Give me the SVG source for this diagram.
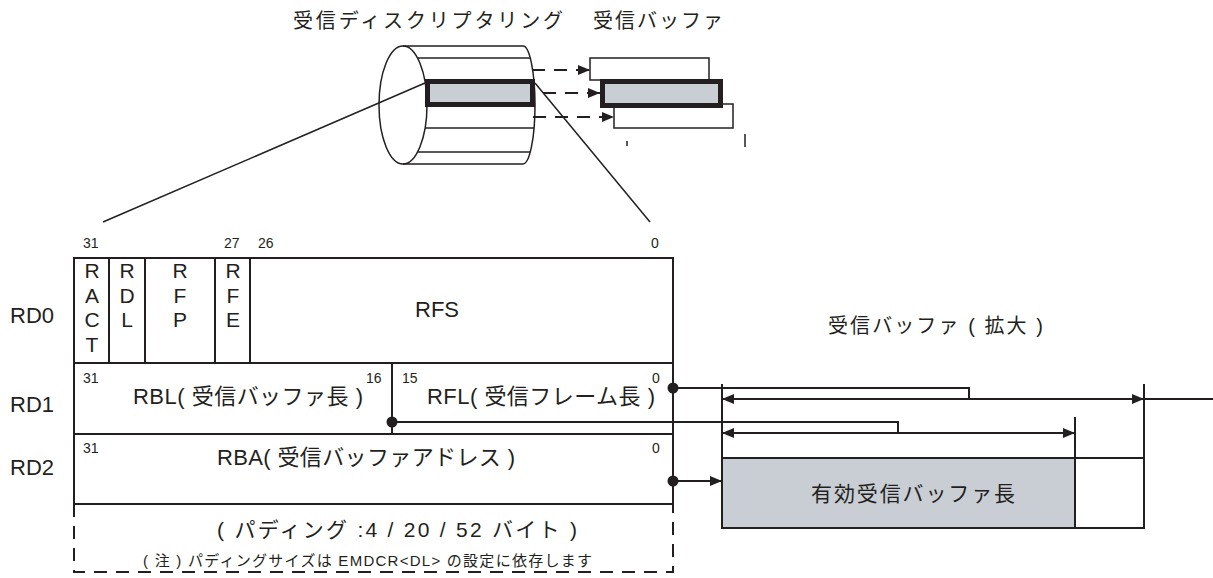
<svg xmlns="http://www.w3.org/2000/svg" width="1213" height="578" viewBox="0 0 1213 578">
<style>
.t{font-family:"Liberation Sans","Noto Sans CJK JP",sans-serif;fill:#231f20}
.ln{stroke:#231f20;stroke-width:2;fill:none}
.th{stroke:#231f20;stroke-width:1.5;fill:none}
.bx{stroke:#231f20;stroke-width:2;fill:#fff}
.gray{fill:#c9cdd4}
.dash{stroke:#231f20;stroke-width:2;fill:none;stroke-dasharray:13 9}
.dot{fill:#231f20}
.f14{font-size:14px}
.f21{font-size:21px}
.mid{text-anchor:middle}
</style>
<defs>
<marker id="ah" viewBox="0 0 12 10" refX="12" refY="5" markerWidth="12" markerHeight="10" markerUnits="userSpaceOnUse" orient="auto-start-reverse">
<path d="M0,0 L12,5 L0,10 z" fill="#231f20"/>
</marker>
</defs>
<rect width="1213" height="578" fill="#fff"/>

<g id="title-ring"><text class="t" x="293" y="28" font-size="20" textLength="270" lengthAdjust="spacing">受信ディスクリプタリング</text></g>
<g id="title-buffer"><text class="t" x="593" y="28" font-size="20" textLength="130" lengthAdjust="spacing">受信バッファ</text></g>

<g id="ring">
<path class="th" d="M403,46 L523,46 A12,59 0 0 1 523,164 L403,164" fill="#fff"/>
<ellipse class="th" cx="403" cy="105" rx="24" ry="59" fill="#fff"/>
<line class="th" x1="418" y1="58" x2="530" y2="58"/>
<line class="th" x1="425" y1="128" x2="534" y2="128"/>
<line class="th" x1="418" y1="152" x2="530" y2="152"/>
<rect class="gray" x="427.5" y="81.5" width="105" height="23" stroke="#231f20" stroke-width="5"/>
</g>

<g id="ring-buffers">
<rect class="th" x="614" y="104" width="119" height="24" fill="#fff"/>
<rect class="th" x="590" y="58" width="119" height="22" fill="#fff"/>
<rect class="gray" x="602.5" y="81.5" width="118" height="24" stroke="#231f20" stroke-width="5"/>
<line class="th" x1="627" y1="141" x2="627" y2="146"/>
<line class="th" x1="745" y1="134" x2="745" y2="147"/>
</g>

<g id="rd-table">
<g id="rd0">
<text class="t" x="10" y="323" font-size="22">RD0</text>
<rect class="bx" x="74" y="258" width="599" height="105"/>
<line class="ln" x1="109" y1="258" x2="109" y2="363"/>
<line class="ln" x1="145" y1="258" x2="145" y2="363"/>
<line class="ln" x1="215" y1="258" x2="215" y2="363"/>
<line class="ln" x1="250" y1="258" x2="250" y2="363"/>
<text class="t f14" x="83" y="248">31</text>
<text class="t f14" x="224" y="248">27</text>
<text class="t f14" x="258" y="248">26</text>
<text class="t f14" x="651" y="248">0</text>
<g class="t f21 mid">
<text x="92" y="278">R</text><text x="92" y="303">A</text><text x="92" y="327">C</text><text x="92" y="352">T</text>
<text x="127" y="278">R</text><text x="127" y="303">D</text><text x="127" y="327">L</text>
<text x="180" y="278">R</text><text x="180" y="303">F</text><text x="180" y="327">P</text>
<text x="233" y="278">R</text><text x="233" y="303">F</text><text x="233" y="327">E</text>
</g>
<text class="t" x="415" y="317" font-size="22">RFS</text>
</g>
<g id="rd1">
<text class="t" x="10" y="412" font-size="22">RD1</text>
<rect class="bx" x="74" y="363" width="599" height="71"/>
<line class="ln" x1="392" y1="363" x2="392" y2="434"/>
<text class="t f14" x="83" y="383">31</text>
<text class="t f14" x="366" y="383">16</text>
<text class="t f14" x="402" y="383">15</text>
<text class="t f14" x="652" y="383">0</text>
<text class="t" x="133" y="404" font-size="22" textLength="230" lengthAdjust="spacing">RBL( 受信バッファ長 )</text>
<text class="t" x="427" y="404" font-size="22" textLength="228" lengthAdjust="spacing">RFL( 受信フレーム長 )</text>
</g>
<g id="rd2">
<text class="t" x="10" y="475" font-size="22">RD2</text>
<rect class="bx" x="74" y="434" width="599" height="70"/>
<text class="t f14" x="83" y="453">31</text>
<text class="t f14" x="652" y="453">0</text>
<text class="t" x="217" y="465" font-size="22" textLength="298" lengthAdjust="spacing">RBA( 受信バッファアドレス )</text>
</g>
<g id="padding">
<path class="dash" d="M74,504 V572 H673 V504"/>
<text class="t" x="217" y="537" font-size="21" textLength="360" lengthAdjust="spacing">( パディング :4 / 20 / 52 バイト )</text>
<text class="t" x="143" y="566" font-size="15" textLength="449" lengthAdjust="spacing">( 注 ) パディングサイズは EMDCR&lt;DL&gt; の設定に依存します</text>
</g>
</g>

<g id="expanded-buffer">
<text class="t" x="828" y="333" font-size="20" textLength="215" lengthAdjust="spacing">受信バッファ ( 拡大 )</text>
<rect class="gray" x="722" y="458" width="353" height="70" stroke="#231f20" stroke-width="2"/>
<rect class="bx" x="1075" y="458" width="69" height="70"/>
<line class="ln" x1="722" y1="384" x2="722" y2="458"/>
<line class="ln" x1="1075" y1="417" x2="1075" y2="458"/>
<line class="ln" x1="1144" y1="384" x2="1144" y2="458"/>
<text class="t" x="811" y="501" font-size="21" textLength="204" lengthAdjust="spacing">有効受信バッファ長</text>
</g>

<g id="connectors">
<line class="th" x1="425" y1="83" x2="103" y2="222"/>
<line class="th" x1="535" y1="83" x2="650" y2="222"/>
<line class="dash" x1="532" y1="70" x2="590" y2="70" marker-end="url(#ah)"/>
<line class="dash" x1="543" y1="93" x2="600" y2="93" marker-end="url(#ah)"/>
<line class="dash" x1="533" y1="117" x2="614" y2="117" marker-end="url(#ah)"/>
<circle class="dot" cx="673" cy="388" r="5.5"/>
<path class="ln" d="M673,388 H969 V399"/>
<line class="ln" x1="722" y1="399" x2="1144" y2="399" marker-start="url(#ah)" marker-end="url(#ah)"/>
<line class="ln" x1="1144" y1="399" x2="1213" y2="399"/>
<circle class="dot" cx="392" cy="422" r="5.5"/>
<path class="ln" d="M392,422 H898 V433"/>
<line class="ln" x1="722" y1="433" x2="1075" y2="433" marker-start="url(#ah)" marker-end="url(#ah)"/>
<circle class="dot" cx="673" cy="481" r="5.5"/>
<line class="ln" x1="673" y1="481" x2="722" y2="481" marker-end="url(#ah)"/>
</g>
</svg>
